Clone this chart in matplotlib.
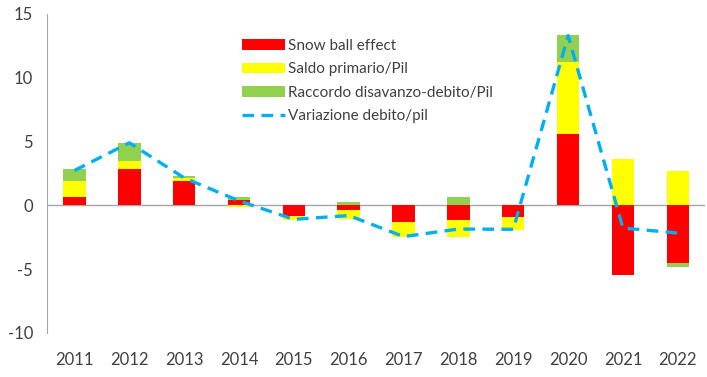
import numpy as np
import matplotlib
matplotlib.use("Agg")
import matplotlib.pyplot as plt

# data
anni = ["2011","2012","2013","2014","2015","2016","2017","2018","2019","2020","2021","2022"]
snow_ball = [0.66, 2.81, 1.89, 0.39, -0.81, -0.34, -1.31, -1.13, -0.91, 5.62, -5.46, -4.54]
saldo_primario = [1.23, 0.65, 0.27, -0.10, -0.32, -0.71, -1.18, -1.39, -1.00, 5.64, 3.65, 2.68]
raccordo = [0.92, 1.40, 0.12, 0.24, 0.0, 0.27, 0.0, 0.63, 0.0, 2.10, 0.0, -0.31]
variazione = [2.73, 4.90, 2.15, 0.35, -1.10, -0.80, -2.45, -1.86, -1.88, 13.3, -1.78, -2.17]

plt.rcParams['font.family'] = ['Lato', 'DejaVu Sans']
plt.rcParams['axes.unicode_minus'] = False

fig = plt.figure(figsize=(7.07, 3.77), dpi=100)
ax = fig.add_axes([0.0665, 0.117, 0.931, 0.846])

x = np.arange(len(anni))
w = 0.41
pos_bottom = np.zeros(len(anni))
neg_bottom = np.zeros(len(anni))
serie = [(snow_ball, '#FF0000', 'Snow ball effect'),
         (saldo_primario, '#FFFF00', 'Saldo primario/Pil'),
         (raccordo, '#92D050', 'Raccordo disavanzo-debito/Pil')]
handles = []
for vals, col, lab in serie:
    vals = np.array(vals)
    bottom = np.where(vals >= 0, pos_bottom, neg_bottom)
    b = ax.bar(x, vals, w, bottom=bottom, color=col, label=lab, zorder=2)
    handles.append(b)
    pos_bottom += np.where(vals >= 0, vals, 0)
    neg_bottom += np.where(vals < 0, vals, 0)

ln, = ax.plot(x, variazione, color='#00B0F0', lw=2.4, dashes=(3.5, 2.2),
              label='Variazione debito/pil', zorder=3)
handles.append(ln)

ax.axhline(0, color='#A6A6A6', lw=1, zorder=1)
ax.set_xlim(-0.5, len(anni) - 0.5)
ax.set_ylim(-10, 15)
ax.set_yticks([-10, -5, 0, 5, 10, 15])
ax.set_xticks(x)
ax.set_xticklabels(anni)
ax.tick_params(length=0, labelsize=12, colors='#404040', pad=10)
ax.tick_params(axis='x', pad=14)
for s in ['top', 'right', 'bottom']:
    ax.spines[s].set_visible(False)
ax.spines['left'].set_color('#A6A6A6')

ax.legend(handles=handles, loc='upper left', bbox_to_anchor=(0.275, 0.965), frameon=False,
          fontsize=11, handlelength=2.8, handleheight=0.7, labelspacing=0.62,
          handletextpad=0.25, labelcolor='#404040')

fig.savefig('out.png', dpi=100)
